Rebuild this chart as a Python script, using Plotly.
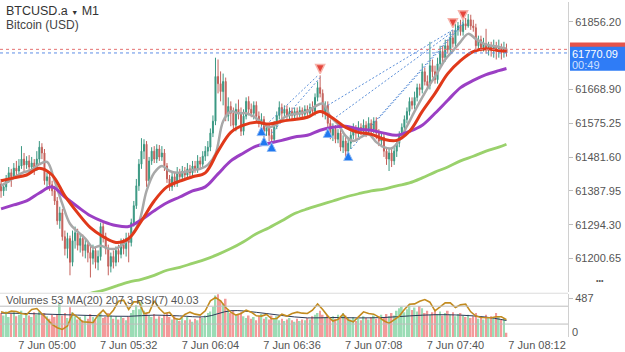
import plotly.graph_objects as go
import pandas as pd

# ---------------- data ----------------
start_time = "2021-06-07 04:42"
n_candles = 199
times = pd.date_range(start_time, periods=n_candles, freq="min")

first_open = 61407
closes = [
    61388, 61399, 61421, 61438, 61427, 61451, 61443, 61457, 61476, 61460,
    61471, 61454, 61465, 61449, 61476, 61509, 61493, 61416, 61427, 61405,
    61388, 61360, 61305, 61327, 61261, 61228, 61256, 61190, 61250, 61272,
    61237, 61256, 61223, 61239, 61217, 61201, 61223, 61190, 61206, 61289,
    61261, 61228, 61179, 61206, 61190, 61223, 61212, 61239, 61228, 61256,
    61245, 61300, 61347, 61402, 61462, 61498, 61517, 61416, 61471, 61498,
    61476, 61504, 61482, 61493, 61457, 61421, 61399, 61427, 61410, 61438,
    61427, 61443, 61432, 61449, 61438, 61457, 61449, 61471, 61462, 61484,
    61498, 61509, 61548, 61581, 61705, 61685, 61663, 61691, 61595, 61622,
    61603, 61570, 61614, 61603, 61553, 61595, 61636, 61614, 61603, 61625,
    61595, 61575, 61586, 61553, 61564, 61542, 61531, 61570, 61597, 61619,
    61603, 61614, 61597, 61608, 61597, 61608, 61600, 61611, 61600, 61614,
    61603, 61619, 61608, 61647, 61674, 61658, 61603, 61625, 61575, 61542,
    61559, 61531, 61548, 61509, 61526, 61498, 61520, 61542, 61559, 61548,
    61564, 61553, 61570, 61553, 61575, 61559, 61581, 61548, 61526, 61537,
    61498, 61476, 61493, 61471, 61498, 61520, 61542, 61564, 61586, 61608,
    61636, 61625, 61647, 61674, 61669, 61718, 61691, 61680, 61735, 61718,
    61696, 61740, 61774, 61757, 61790, 61779, 61812, 61796, 61834, 61845,
    61829, 61851, 61845, 61862, 61845, 61840, 61790, 61807, 61785, 61796,
    61785, 61790, 61779, 61787, 61782, 61785, 61776, 61782, 61770.09,
]
highs = [
    61421, 61410, 61432, 61454, 61449, 61465, 61471, 61476, 61512, 61493,
    61484, 61487, 61482, 61476, 61498, 61526, 61520, 61504, 61438, 61438,
    61416, 61402, 61371, 61344, 61338, 61278, 61272, 61264, 61278, 61289,
    61283, 61270, 61267, 61256, 61250, 61234, 61239, 61234, 61223, 61300,
    61300, 61272, 61239, 61217, 61223, 61234, 61239, 61256, 61256, 61272,
    61272, 61311, 61360, 61421, 61476, 61534, 61531, 61526, 61482, 61509,
    61512, 61517, 61515, 61512, 61504, 61465, 61432, 61443, 61438, 61454,
    61449, 61457, 61454, 61465, 61460, 61471, 61471, 61487, 61482, 61498,
    61512, 61526, 61561, 61597, 61757, 61752, 61719, 61713, 61702, 61647,
    61636, 61619, 61630, 61641, 61619, 61614, 61647, 61650, 61630, 61636,
    61636, 61608, 61603, 61595, 61575, 61575, 61559, 61581, 61608, 61636,
    61630, 61625, 61625, 61619, 61619, 61619, 61619, 61622, 61619, 61625,
    61625, 61630, 61636, 61658, 61691, 61708, 61669, 61636, 61636, 61586,
    61575, 61570, 61559, 61559, 61542, 61537, 61537, 61553, 61575, 61570,
    61581, 61575, 61586, 61581, 61592, 61586, 61592, 61592, 61559, 61548,
    61548, 61509, 61504, 61504, 61509, 61531, 61553, 61575, 61597, 61619,
    61647, 61647, 61663, 61685, 61685, 61741, 61730, 61708, 61801, 61752,
    61735, 61757, 61790, 61790, 61807, 61807, 61829, 61834, 61851, 61856,
    61862, 61867, 61867, 61878, 61876, 61862, 61851, 61818, 61818, 61812,
    61837, 61801, 61801, 61807, 61801, 61807, 61796, 61801, 61796,
]
lows = [
    61369, 61374, 61388, 61410, 61399, 61421, 61429, 61432, 61449, 61440,
    61449, 61438, 61443, 61432, 61443, 61465, 61476, 61405, 61394, 61388,
    61374, 61349, 61294, 61283, 61250, 61209, 61201, 61154, 61179, 61228,
    61223, 61217, 61206, 61201, 61190, 61148, 61184, 61173, 61168, 61195,
    61245, 61212, 61154, 61162, 61173, 61179, 61190, 61201, 61212, 61206,
    61190, 61234, 61289, 61338, 61388, 61449, 61476, 61399, 61405, 61460,
    61465, 61465, 61471, 61471, 61443, 61410, 61388, 61388, 61399, 61399,
    61416, 61416, 61421, 61421, 61427, 61427, 61438, 61438, 61449, 61454,
    61471, 61484, 61498, 61537, 61570, 61658, 61636, 61625, 61581, 61581,
    61567, 61553, 61553, 61586, 61540, 61542, 61586, 61597, 61592, 61586,
    61581, 61564, 61559, 61537, 61540, 61526, 61520, 61526, 61559, 61586,
    61581, 61592, 61586, 61586, 61586, 61589, 61589, 61592, 61592, 61592,
    61592, 61595, 61597, 61597, 61636, 61647, 61592, 61586, 61559, 61531,
    61526, 61520, 61520, 61498, 61493, 61471, 61482, 61504, 61531, 61531,
    61537, 61542, 61542, 61537, 61542, 61548, 61548, 61531, 61512, 61509,
    61482, 61460, 61443, 61454, 61460, 61482, 61509, 61531, 61553, 61575,
    61597, 61614, 61614, 61636, 61652, 61658, 61680, 61669, 61669, 61702,
    61685, 61685, 61730, 61741, 61746, 61768, 61768, 61785, 61785, 61818,
    61818, 61818, 61834, 61840, 61834, 61829, 61779, 61779, 61774, 61774,
    61768, 61763, 61760, 61757, 61752, 61757, 61752, 61757, 61760,
]
volumes = [
    300, 270, 320, 250, 290, 310, 260, 280, 330, 240, 300, 270, 250, 310, 280, 320, 290, 300,
    260, 230, 280, 250, 290, 410, 270, 300, 240, 375, 310, 260, 220, 250, 210, 270, 230, 290,
    250, 220, 260, 300, 240,
    250, 300, 270, 230, 260, 220, 250, 240, 210, 260, 300, 340, 400, 350, 437,
    330, 300, 270, 250, 290, 230, 260, 240, 280, 300, 250, 220, 260, 230, 200, 240, 210, 250,
    220, 190, 230, 210, 250, 240, 270, 300, 320,
    380, 520, 540, 460, 420, 480, 350, 300, 330, 270, 290, 310, 260,
    240, 270, 230, 250, 210, 260, 290, 230, 250, 220, 270, 240, 260, 210, 230, 200, 220, 240,
    210, 190, 230, 200, 220, 210, 240, 220, 260,
    280, 300, 330, 280, 250, 270, 240, 260, 230, 280, 250, 300, 270, 240, 220, 250, 200, 230,
    210, 260, 240, 220, 250, 270, 230, 260, 280, 250,
    290, 260, 300, 270, 330, 360, 380, 310, 350, 400, 340, 370, 320, 390, 360, 300, 330, 280,
    310, 350, 290, 320, 270, 300, 330, 280, 310, 260, 290, 300,
    270, 250, 280, 240, 260, 300, 230, 250, 220, 280, 240, 260, 230, 300, 250, 220, 240, 53,
]

# moving averages read at sampled candles
ma_idx = list(range(0, 196, 5)) + [198]
ma_red = [61416, 61424, 61432, 61451, 61432, 61374, 61327, 61286, 61261, 61245, 61256,
          61305, 61360, 61399, 61415, 61427, 61438, 61498, 61550, 61570, 61578, 61573,
          61581, 61586, 61592, 61608, 61589, 61564, 61550, 61545, 61531, 61528, 61553,
          61608, 61658, 61713, 61749, 61774, 61782, 61776, 61774]
ma_purple = [61338, 61349, 61360, 61382, 61399, 61371, 61344, 61319, 61303, 61292, 61289,
             61308, 61333, 61355, 61371, 61388, 61399, 61435, 61471, 61493, 61512, 61520,
             61528, 61537, 61542, 61556, 61564, 61567, 61559, 61556, 61548, 61542, 61553,
             61570, 61603, 61639, 61674, 61694, 61710, 61721, 61727]
green_idx = list(range(30, 196, 5)) + [198]
ma_green = [61093, 61104, 61112, 61124, 61135, 61143, 61154, 61168, 61176, 61187, 61198,
            61212, 61228, 61247, 61269, 61286, 61305, 61325, 61338, 61349, 61360, 61371,
            61380, 61388, 61393, 61402, 61410, 61424, 61440, 61454, 61471, 61484, 61498,
            61509, 61517]
gray_idx = list(range(0, 199, 3))
ma_gray = [61402, 61415, 61429, 61440, 61446, 61462, 61468, 61415, 61352, 61297,
           61275, 61256, 61231, 61236, 61228, 61228, 61242, 61264, 61300, 61388,
           61438, 61457, 61443, 61438, 61440, 61446, 61449, 61460, 61490, 61581,
           61608, 61603, 61603, 61594, 61578, 61564, 61573, 61592, 61600, 61603,
           61608, 61622, 61630, 61594, 61573, 61540, 61526, 61537, 61545, 61523,
           61509, 61506, 61528, 61567, 61608, 61647, 61683, 61716, 61752, 61776,
           61801, 61823, 61809, 61796, 61790, 61787, 61782]

volma_idx = list(range(0, 191, 10)) + [198]
vol_ma = [300, 295, 285, 275, 265, 260, 275, 265, 255, 330, 310, 270, 240, 245, 240,
          245, 265, 280, 275, 250, 207.3]

rsi_idx = list(range(0, 199, 2))
rsi = [57.4, 54.4, 58.9, 58, 53.7, 51.5, 62.6, 64.8, 53, 41.9,
       29.3, 21.9, 18.1, 25.6, 53.7, 44.8, 35.2, 34.4, 33, 50,
       61, 47.8, 61, 81, 83.3, 62.6, 79.6, 79.6, 53.7, 56,
       81.9, 64.8, 53.7, 56, 42.6, 40.4, 51.5, 56.7, 52.2, 50,
       59.6, 81.9, 89.3, 81.9, 67, 56.7, 50, 53.7, 61, 56.7,
       48.5, 47.8, 51.5, 41.9, 42.6, 52.2, 47.8, 53.7, 56.7, 54.4,
       53.7, 61, 75, 62.6, 47.8, 36.7, 40.4, 52.2, 38.9, 35.2,
       46.3, 57.4, 53.7, 52.2, 45.6, 37.4, 31.5, 40.4, 47.8, 62.6,
       74.4, 75.2, 81.1, 84.8, 78.9, 59.6, 68.5, 77.4, 77.4, 67,
       73, 74.4, 57.4, 47.8, 44.8, 44.1, 44.1, 46.3, 46.3, 40.03]

# trades (entry/exit candle index and price)
trade_entry_i = [104, 106, 128, 130, 137, 148]
trade_entry_p = [61572, 61548, 61625, 61586, 61504, 61589]
trade_exit_i = [124, 125, 177, 177, 181, 181]
trade_exit_p = [61707, 61702, 61834, 61829, 61856, 61851]
buy_i = [102, 103, 106, 128, 136]
buy_p = [61566, 61538, 61522, 61561, 61497]
sell_i = [125, 177, 181]
sell_p = [61713, 61840, 61862]

ask_price = 61780.09
bid_price = closes[-1]
countdown = "00:49"

# 61762.55 sits hidden behind the bid box in the reference, so it is not labelled
price_ticks = [61200.65, 61294.30, 61387.95, 61481.60, 61575.25, 61668.90, 61856.20]
time_ticks = ["2021-06-07 05:00", "2021-06-07 05:32", "2021-06-07 06:04", "2021-06-07 06:36",
              "2021-06-07 07:08", "2021-06-07 07:40", "2021-06-07 08:12"]
time_tick_labels = ["7 Jun 05:00", "7 Jun 05:32", "7 Jun 06:04", "7 Jun 06:36",
                    "7 Jun 07:08", "7 Jun 07:40", "7 Jun 08:12"]

for arr in (closes, highs, lows, volumes):
    assert len(arr) == n_candles, len(arr)
assert len(ma_red) == len(ma_idx) and len(ma_purple) == len(ma_idx)
assert len(ma_green) == len(green_idx) and len(ma_gray) == len(gray_idx)
assert len(vol_ma) == len(volma_idx) and len(rsi) == len(rsi_idx)

opens = [first_open] + closes[:-1]

# ---------------- figure ----------------
UP = "#3a9882"
DOWN = "#c4605a"
x_range = ["2021-06-07 04:41:35", "2021-06-07 08:24:06"]

fig = go.Figure()
fig.add_trace(go.Candlestick(
    x=times, open=opens, high=highs, low=lows, close=closes,
    increasing=dict(line=dict(color=UP, width=1), fillcolor=UP),
    decreasing=dict(line=dict(color=DOWN, width=1), fillcolor=DOWN),
    whiskerwidth=0, xaxis="x", yaxis="y", hoverinfo="skip"))

# trade lines
tx, ty = [], []
for a, pa, b, pb in zip(trade_entry_i, trade_entry_p, trade_exit_i, trade_exit_p):
    tx += [times[a], times[b], None]
    ty += [pa, pb, None]
fig.add_trace(go.Scatter(x=tx, y=ty, mode="lines", xaxis="x", yaxis="y",
                         line=dict(color="#5b8fd9", width=1, dash="2px,2px")))

def ma_trace(idx, vals, color, width):
    return go.Scatter(x=[times[i] for i in idx], y=vals, mode="lines", xaxis="x", yaxis="y",
                      line=dict(color=color, width=width, shape="spline", smoothing=1))

fig.add_trace(ma_trace(gray_idx, ma_gray, "#a8a8a8", 2.5))
fig.add_trace(ma_trace(green_idx, ma_green, "#9ad16c", 2.8))
fig.add_trace(ma_trace(ma_idx, ma_purple, "#9b3fc4", 3))
fig.add_trace(ma_trace(ma_idx, ma_red, "#e0391a", 3))

fig.add_trace(go.Scatter(x=[times[i] for i in buy_i], y=buy_p, mode="markers", xaxis="x", yaxis="y",
                         marker=dict(symbol="arrow-up", size=9, color="#1f78f0",
                                     line=dict(color="#8fbaf5", width=1))))
fig.add_trace(go.Scatter(x=[times[i] for i in sell_i], y=sell_p, mode="markers", xaxis="x", yaxis="y",
                         marker=dict(symbol="arrow-down", size=9, color="#e5463c",
                                     line=dict(color="#f6b2aa", width=1.5))))

# volume panel
vol_colors = ["#9bdcb5" if c >= o else "#f39a9a" for o, c in zip(opens, closes)]
fig.add_trace(go.Bar(x=times, y=volumes, marker=dict(color=vol_colors, line=dict(width=0)),
                     xaxis="x2", yaxis="y2", hoverinfo="skip"))
fig.add_trace(go.Scatter(x=[times[i] for i in volma_idx], y=vol_ma, mode="lines",
                         xaxis="x2", yaxis="y2",
                         line=dict(color="#2b3a57", width=1, shape="spline")))
fig.add_trace(go.Scatter(x=[times[i] for i in rsi_idx], y=rsi, mode="lines",
                         xaxis="x2", yaxis="y3",
                         line=dict(color="#c38b1f", width=1.6)))

GRID = "#d0d0d0"
fig.update_layout(
    width=625, height=352, margin=dict(l=0, r=57, t=0, b=15),
    paper_bgcolor="white", plot_bgcolor="white", showlegend=False, hovermode=False,
    font=dict(family="Liberation Sans, Arial, sans-serif", size=11, color="#555"),
    boxgap=0.45, bargap=0.35,
    xaxis=dict(domain=[0, 1], anchor="y", range=x_range, showticklabels=False,
               showgrid=False, zeroline=False, rangeslider=dict(visible=False)),
    xaxis2=dict(domain=[0, 1], anchor="y2", range=x_range, tickvals=time_ticks,
                ticktext=time_tick_labels, showgrid=False, zeroline=False,
                tickfont=dict(size=11, color="#555")),
    yaxis=dict(domain=[0.1335, 1], range=[61107.0, 61911.3], side="right",
               tickvals=price_ticks, ticktext=[f"{v:.2f}" for v in price_ticks],
               showgrid=False, zeroline=False, showline=True, linecolor=GRID,
               ticks="outside", ticklen=4, tickcolor="#bdbdbd",
               tickfont=dict(size=11, color="#555")),
    yaxis2=dict(domain=[0, 0.1276], range=[0, 537], side="right", tickvals=[487],
                ticktext=["487"], showgrid=False, zeroline=False, showline=True,
                linecolor=GRID, ticks="outside", ticklen=4, tickcolor="#bdbdbd",
                tickfont=dict(size=11, color="#555")),
    yaxis3=dict(overlaying="y2", anchor="x2", range=[1.1, 96.7], visible=False),
)

shapes = [
    dict(type="line", xref="paper", x0=0, x1=1, yref="y", y0=ask_price, y1=ask_price,
         line=dict(color="#e57373", width=1, dash="dot")),
    dict(type="line", xref="paper", x0=0, x1=1, yref="y", y0=bid_price, y1=bid_price,
         line=dict(color="#5c8ee6", width=1, dash="dot")),
    dict(type="line", xref="paper", x0=0, x1=1, yref="paper", y0=0.1306, y1=0.1306,
         line=dict(color="#dcdcdc", width=1)),
    dict(type="line", xref="paper", x0=0, x1=1, yref="y3", y0=70, y1=70,
         line=dict(color="#bdbdbd", width=1)),
    dict(type="line", xref="paper", x0=0, x1=1, yref="y3", y0=30, y1=30,
         line=dict(color="#bdbdbd", width=1)),
    # ask price tag, mostly covered by the bid tag (only its top edge shows)
    dict(type="rect", xref="paper", x0=1.0035, x1=1.1004, yref="y", y0=61799, y1=61776,
         fillcolor="#e5534b", line=dict(width=0), layer="above"),
    # bid price tag
    dict(type="rect", xref="paper", x0=1.0035, x1=1.1004, yref="y", y0=61787, y1=61721,
         fillcolor="#2f7cf6", line=dict(width=0), layer="above"),
]
fig.update_layout(shapes=shapes)

annotations = [
    dict(xref="paper", yref="paper", x=0.007, y=0.973, xanchor="left", yanchor="middle",
         showarrow=False, text="BTCUSD.a <span style='font-size:7px'>▼</span> M1",
         font=dict(size=12.5, color="#333")),
    dict(xref="paper", yref="paper", x=0.007, y=0.932, xanchor="left", yanchor="middle",
         showarrow=False, text="Bitcoin (USD)", font=dict(size=12, color="#444")),
    dict(xref="paper", yref="paper", x=0.007, y=0.110, xanchor="left", yanchor="middle",
         showarrow=False,
         text=f"Volumes {volumes[-1]} MA(20) {vol_ma[-1]} RSI(7) {rsi[-1]}",
         font=dict(size=11, color="#555")),
    dict(xref="paper", yref="paper", x=1.0035, y=(337 - 332) / 337, xanchor="left",
         yanchor="middle", showarrow=False, text="0", font=dict(size=11, color="#555")),
    dict(xref="paper", yref="paper", x=1.056, y=0.169, xanchor="center", yanchor="middle",
         showarrow=False, text="•••", font=dict(size=7, color="#555")),
    dict(xref="paper", yref="y", x=1.0035, y=61768, xanchor="left", yanchor="middle",
         showarrow=False, text=f"{bid_price:.2f}", font=dict(size=11, color="white")),
    dict(xref="paper", yref="y", x=1.0035, y=61737, xanchor="left", yanchor="middle",
         showarrow=False, text=countdown, font=dict(size=11, color="#cfe0ff")),
]
fig.update_layout(annotations=annotations)

fig.write_html("out.html")
